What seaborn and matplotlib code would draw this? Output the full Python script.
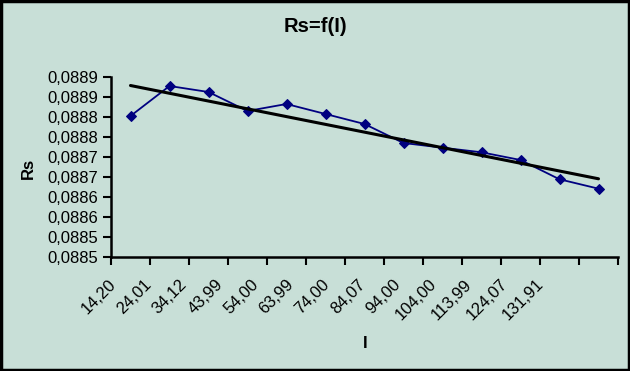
import numpy as np
import pandas as pd
import seaborn as sns
import matplotlib.pyplot as plt
import matplotlib.transforms as mtransforms

# valores
corrente = ['14,20', '24,01', '34,12', '43,99', '54,00', '63,99', '74,00',
            '84,07', '94,00', '104,00', '113,99', '124,07', '131,91']
rs = [0.0888525, 0.0889275, 0.0889125, 0.0888650, 0.0888825, 0.0888575,
      0.0888325, 0.0887850, 0.0887733, 0.0887618, 0.0887425, 0.0886943,
      0.0886708]
yticks = [0.08850, 0.08855, 0.08860, 0.08865, 0.08870, 0.08875, 0.08880,
          0.08885, 0.08890, 0.08895]
ytick_labels = ['0,0885', '0,0885', '0,0886', '0,0886', '0,0887', '0,0887',
                '0,0888', '0,0888', '0,0889', '0,0889']

bg = '#C8DFD7'
sns.set_style('ticks')
plt.rcParams['font.family'] = ['Liberation Sans', 'DejaVu Sans']
plt.rcParams['text.color'] = 'black'
plt.rcParams['xtick.color'] = 'black'
plt.rcParams['ytick.color'] = 'black'
plt.rcParams['xtick.labelcolor'] = 'black'
plt.rcParams['ytick.labelcolor'] = 'black'

n = len(corrente)
df = pd.DataFrame({'pos': np.arange(n), 'rs': rs})

fig = plt.figure(figsize=(6.3, 3.71), dpi=100, facecolor=bg)
ax = fig.add_axes([111 / 630, 1 - 257 / 371, 507 / 630, 180 / 371])
ax.set_facecolor(bg)

sns.lineplot(data=df, x='pos', y='rs', ax=ax, color='#000080', marker='D',
             markersize=5, markeredgecolor='#000080', linewidth=1.3)
sns.regplot(data=df, x='pos', y='rs', ax=ax, scatter=False, ci=None,
            truncate=True, color='black', line_kws={'linewidth': 2.2})

ax.set_yticks(yticks)
ax.set_yticklabels(ytick_labels, fontsize=12)

ax.set_xticks(np.arange(n))
ax.set_xticklabels(corrente, rotation=45, ha='right', rotation_mode='anchor',
                   fontsize=12)
ax.tick_params(axis='x', which='major', length=0, pad=14)
ax.set_xticks(np.arange(n + 1) - 0.5, minor=True)
ax.tick_params(axis='x', which='minor', length=6, width=1.5, direction='out')
ax.tick_params(axis='y', length=6, width=1.5, direction='out', pad=3)

ax.set_xlim(-0.5, n - 0.5)
ax.set_ylim(yticks[0], yticks[-1])

# no original os rotulos ficam um pouco mais juntos que as categorias
for i, lab in enumerate(ax.get_xticklabels()):
    dx = (-0.58 - 0.086 * i) * 39 / 100
    lab.set_transform(lab.get_transform() +
                      mtransforms.ScaledTranslation(dx, 0, fig.dpi_scale_trans))

for s in ['top', 'right']:
    ax.spines[s].set_visible(False)
for s in ['left', 'bottom']:
    ax.spines[s].set_linewidth(1.8)
    ax.spines[s].set_color('black')

ax.set_xlabel('')
ax.set_ylabel('')
fig.text(315 / 630, 1 - 27 / 371, 'Rs=f(I)', ha='center', va='center',
         fontsize=14.5, fontweight='bold')
fig.text(28 / 630, 1 - 168 / 371, 'Rs', ha='center', va='center',
         rotation=90, fontsize=12, fontweight='bold')
fig.text(365 / 630, 1 - 343 / 371, 'I', ha='center', va='center',
         fontsize=12, fontweight='bold')

# moldura preta
fig.patches.append(plt.Rectangle((0.002, 0.003), 0.996, 0.994,
                                 transform=fig.transFigure, fill=False,
                                 edgecolor='black', linewidth=2.5))

fig.savefig('out.png', dpi=100, facecolor=bg)
